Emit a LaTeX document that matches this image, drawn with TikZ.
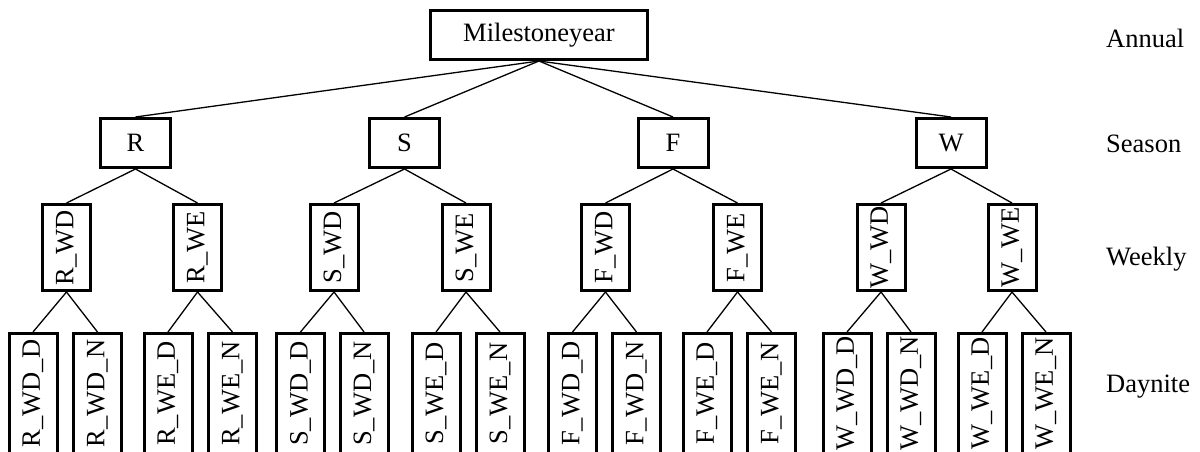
\documentclass[tikz,border=0pt]{standalone}
\usepackage{fontspec}
\setmainfont{Liberation Serif}
\begin{document}
\begin{tikzpicture}[x=1pt,y=-1pt,
  box/.style={draw, line width=3pt, inner sep=0pt, font=\fontsize{26.5}{30}\selectfont},
  rootbox/.style={box, minimum width=217pt, minimum height=49pt},
  seasonbox/.style={box, minimum width=70pt, minimum height=49pt},
  weekbox/.style={box, minimum width=48pt, minimum height=86pt},
  daybox/.style={box, minimum width=48pt, minimum height=120pt},
  edge/.style={line width=1.3pt},
  levelname/.style={anchor=base west, inner sep=0pt, font=\fontsize{26.5}{30}\selectfont}]
  \fill[white] (0,0) rectangle (1200,452);
  \useasboundingbox (0,0) rectangle (1200,452);
  \clip (0,0) rectangle (1200,452);

  % top level
  \node[rootbox] (root) at (539,35) {Milestoneyear};

  % seasons
  \foreach \s/\x in {R/135.5, S/404.5, F/673, W/951}
    \node[seasonbox] (\s) at (\x,143) {\s};

  % week parts
  \foreach \s/\k/\x in {R/WD/66.5, R/WE/197.5, S/WD/334, S/WE/466,
                        F/WD/605.5, F/WE/737.5, W/WD/881, W/WE/1012}
    \node[weekbox] (\s\k) at (\x,247.5) {\rotatebox{90}{\s\_\k}};

  % day and night parts
  \foreach \s/\k/\d/\x in {
      R/WD/D/33,    R/WD/N/97.5,  R/WE/D/168,   R/WE/N/232.5,
      S/WD/D/300.5, S/WD/N/364,   S/WE/D/436,   S/WE/N/500,
      F/WD/D/572.5, F/WD/N/636.5, F/WE/D/707,   F/WE/N/771.5,
      W/WD/D/847,   W/WD/N/911,   W/WE/D/982,   W/WE/N/1046}
    \node[daybox] (\s\k\d) at (\x,393.5) {\rotatebox{90}{\s\_\k\_\d}};

  % connectors
  \foreach \s in {R,S,F,W} {
    \draw[edge] (root.south) -- (\s.north);
    \foreach \k in {WD,WE} {
      \draw[edge] (\s.south) -- (\s\k.north);
      \foreach \d in {D,N}
        \draw[edge] (\s\k.south) -- (\s\k\d.north);
    }
  }

  % level names
  \node[levelname] (lannual) at (1106,48) {Annual};
  \node[levelname] (lseason) at (1106,152) {Season};
  \node[levelname] (lweekly) at (1106,265) {Weekly};
  \node[levelname] (ldaynite) at (1106,392) {Daynite};
\end{tikzpicture}
\end{document}
